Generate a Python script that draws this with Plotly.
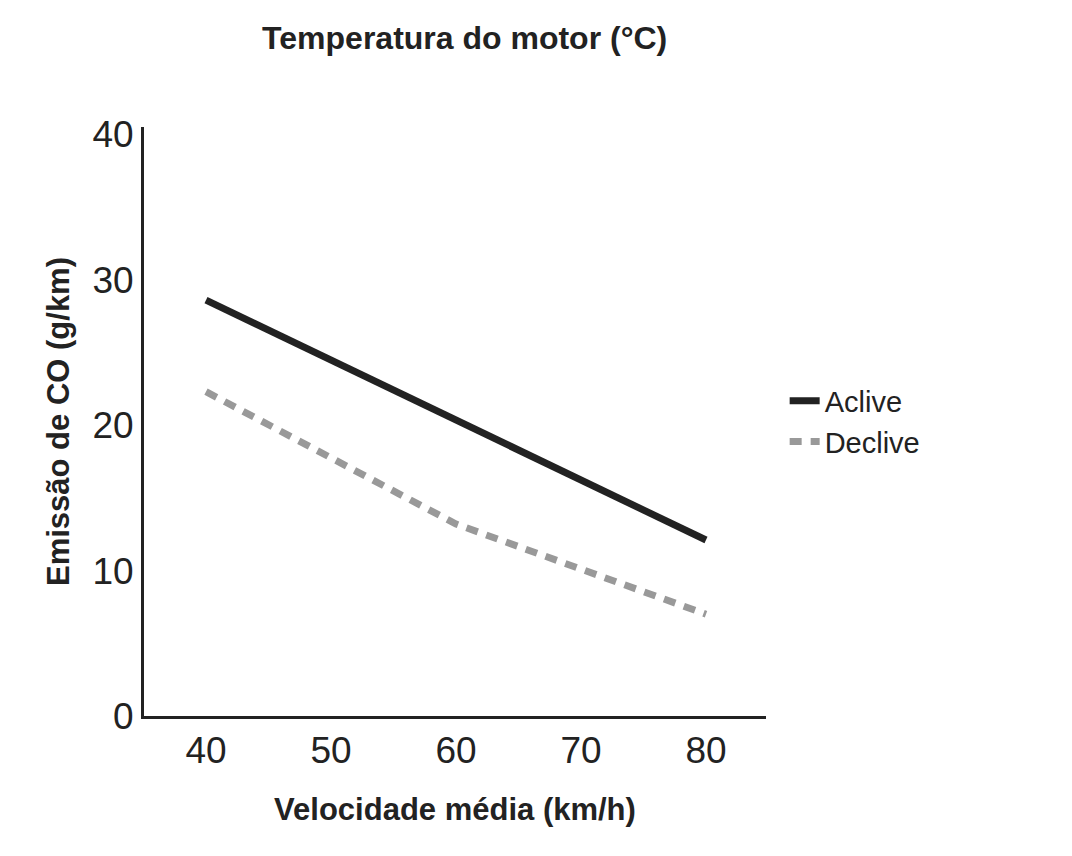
import plotly.graph_objects as go

velocidade = [40, 50, 60, 70, 80]
aclive = [28.6, 24.5, 20.4, 16.2, 12.1]
declive = [22.3, 17.7, 13.2, 10.1, 7.0]

fig = go.Figure()
fig.add_trace(go.Scatter(x=velocidade, y=aclive, name="Aclive", mode="lines",
                         line=dict(color="#222222", width=7)))
fig.add_trace(go.Scatter(x=velocidade, y=declive, name="Declive", mode="lines",
                         line=dict(color="#999999", width=7, dash="12px,9px")))

font = "Liberation Sans, Arial, sans-serif"
fig.update_layout(
    width=1072, height=856,
    paper_bgcolor="white", plot_bgcolor="white",
    margin=dict(l=136, r=314, t=119, b=148),
    font=dict(family=font, color="#222222"),
    title=dict(text="<b>Temperatura do motor (°C)</b>", x=0.426, xanchor="center",
               y=0.965, yanchor="middle", font=dict(size=32)),
    legend=dict(x=1.03, y=0.5, xanchor="left", yanchor="middle",
                font=dict(size=29), tracegroupgap=30),
    xaxis=dict(range=[35.04, 84.8], tickvals=velocidade, showgrid=False, zeroline=False,
               showline=True, linecolor="#222222", linewidth=3,
               tickfont=dict(size=37), ticklen=0,
               title=dict(text="<b>Velocidade média (km/h)</b>", font=dict(size=31), standoff=28)),
    yaxis=dict(range=[0, 40.5], tickvals=[0, 10, 20, 30, 40], showgrid=False, zeroline=False,
               showline=True, linecolor="#222222", linewidth=3,
               tickfont=dict(size=37), ticklen=0,
               title=dict(text="<b>Emissão de CO (g/km)</b>", font=dict(size=31), standoff=14)),
)

fig.write_html("out.html")
